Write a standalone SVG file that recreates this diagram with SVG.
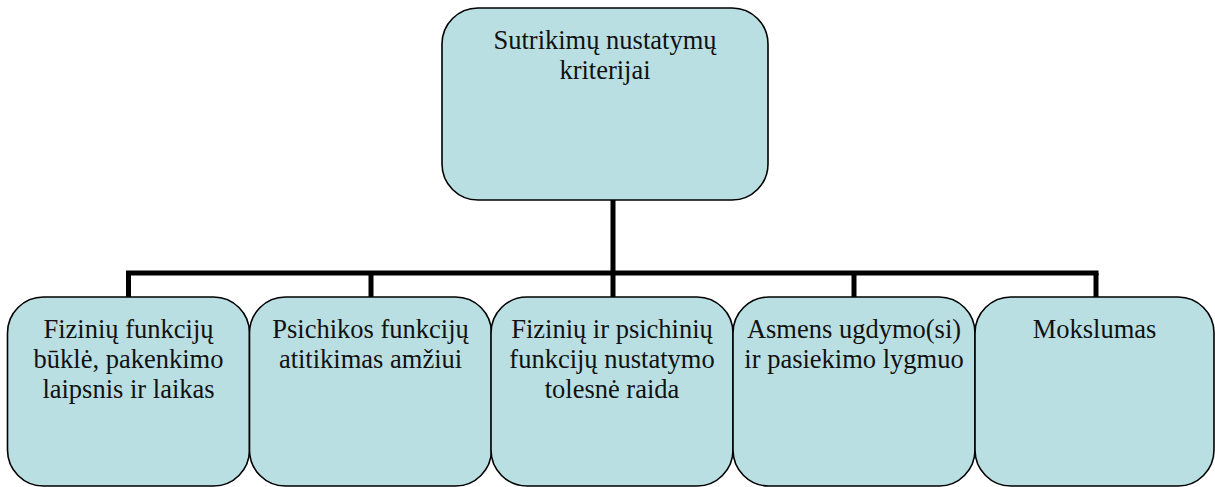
<svg xmlns="http://www.w3.org/2000/svg" width="1215" height="487" viewBox="0 0 1215 487">
<style>
.box{fill:#b9dfe3;stroke:#000;stroke-width:1.6}
.c{stroke:#000;stroke-width:5;fill:none}
</style>
<rect width="1215" height="487" fill="#fff"/>
<g id="connectors">
<line class="c" x1="613" y1="200" x2="613" y2="273"/>
<line class="c" x1="126" y1="273" x2="1098.5" y2="273"/>
<line class="c" x1="128.5" y1="273" x2="128.5" y2="297"/>
<line class="c" x1="371" y1="273" x2="371" y2="297"/>
<line class="c" x1="613" y1="273" x2="613" y2="297"/>
<line class="c" x1="854" y1="273" x2="854" y2="297"/>
<line class="c" x1="1096" y1="273" x2="1096" y2="297"/>
</g>
<g font-family="Liberation Serif, Times New Roman, serif" font-size="26.5" fill="#111" text-anchor="middle">
<g id="root">
<rect class="box" x="442" y="8" width="326" height="192" rx="36" ry="36"/>
<text x="605" y="49">Sutrikimų nustatymų</text>
<text x="605" y="79">kriterijai</text>
</g>
<g id="n1">
<rect class="box" x="7.5" y="297" width="242" height="189" rx="36" ry="36"/>
<text x="128.5" y="338">Fizinių funkcijų</text>
<text x="128.5" y="368">būklė, pakenkimo</text>
<text x="128.5" y="398">laipsnis ir laikas</text>
</g>
<g id="n2">
<rect class="box" x="249.5" y="297" width="242" height="189" rx="36" ry="36"/>
<text x="370.5" y="338">Psichikos funkcijų</text>
<text x="370.5" y="368">atitikimas amžiui</text>
</g>
<g id="n3">
<rect class="box" x="491" y="297" width="242" height="189" rx="36" ry="36"/>
<text x="612" y="338">Fizinių ir psichinių</text>
<text x="612" y="368">funkcijų nustatymo</text>
<text x="612" y="398">tolesnė raida</text>
</g>
<g id="n4">
<rect class="box" x="733" y="297" width="242" height="189" rx="36" ry="36"/>
<text x="854" y="338">Asmens ugdymo(si)</text>
<text x="854" y="368">ir pasiekimo lygmuo</text>
</g>
<g id="n5">
<rect class="box" x="975" y="297" width="239" height="189" rx="36" ry="36"/>
<text x="1094.5" y="338">Mokslumas</text>
</g>
</g>
</svg>
